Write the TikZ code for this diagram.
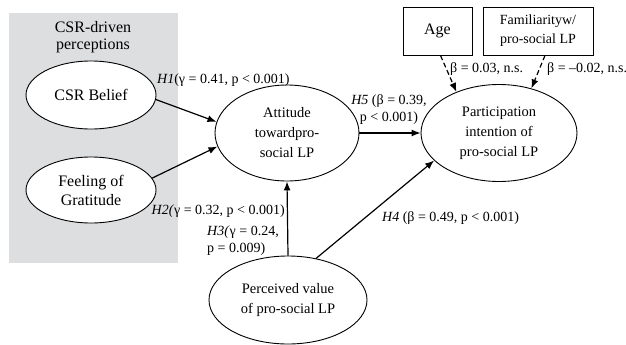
\documentclass[tikz,border=0pt]{standalone}
\usepackage{fontspec}
\setmainfont{Liberation Serif}
\usetikzlibrary{arrows.meta,shapes.geometric}
\definecolor{panelgray}{RGB}{221,222,223}
\tikzset{
  construct/.style={draw, ellipse, line width=0.9pt, fill=white, inner sep=0pt, align=center, font=\fontsize{14.5}{20}\selectfont},
  antecedent/.style={construct, font=\fontsize{16}{19}\selectfont},
  control/.style={draw, rectangle, line width=0.9pt, fill=white, inner sep=0pt, align=center, font=\fontsize{14}{19}\selectfont},
  effect/.style={line width=1.2pt, -{Latex[length=9pt,width=7pt]}},
  ctrleffect/.style={effect, dash pattern=on 5pt off 3pt},
  hyp/.style={inner sep=0pt, font=\fontsize{14}{17}\selectfont}
}

\begin{document}
\begin{tikzpicture}[x=1pt, y=-1pt]
		%%%%% START %%%%%
		\useasboundingbox (0, 0) rectangle (626, 345);
		
		\fill[panelgray] (9, 13) rectangle (178, 263);
		\node[hyp, align=center, font=\fontsize{16}{17.5}\selectfont] (group) at (93, 37) {CSR-driven\\perceptions};
		
		\node[antecedent, minimum width=130, minimum height=68] (belief) at (91, 95) {CSR Belief};
		\node[antecedent, minimum width=130, minimum height=66] (gratitude) at (91, 190) {Feeling of\\Gratitude};
		\node[construct, minimum width=144, minimum height=96] (attitude) at (287, 133) {Attitude\\towardpro-\\social LP};
		\node[construct, minimum width=156, minimum height=97] (intention) at (499, 133) {Participation\\intention of\\pro-social LP};
		\node[construct, minimum width=158, minimum height=88] (value) at (288, 300) {Perceived value\\of pro-social LP};
		
		\node[control, minimum width=69, minimum height=48, font=\fontsize{16}{19}\selectfont] (age) at (437.5, 31) {Age};
		\node[control, minimum width=110, minimum height=48] (familiar) at (538, 31) {Familiarityw/\\pro-social LP};
		
		\draw[effect] (belief.-4) -- (attitude.171);
		\draw[effect] (gratitude.11) -- (attitude.191);
		\draw[effect] (value.north) -- (attitude.south);
		\draw[effect] (attitude.east) -- (intention.west);
		\draw[effect] (value.56) -- (intention.203);
		\draw[ctrleffect] ([xshift=3pt]age.south) -- (intention.136);
		\draw[ctrleffect] ([xshift=7pt]familiar.south) -- (intention.54);
		
		\node[hyp, anchor=west] (h1) at (157, 80) {\textit{H1}(γ = 0.41, p < 0.001)};
		\node[hyp, anchor=east] (h2) at (285, 211) {\textit{H2(}γ = 0.32, p < 0.001)};
		\node[hyp, anchor=west, align=left] (h3) at (207, 241) {\textit{H3(}γ = 0.24,\\p = 0.009)};
		\node[hyp, anchor=west] (h4) at (382, 218) {\textit{H4} (β = 0.49, p < 0.001)};
		\node[hyp, align=center] (h5) at (389, 110) {\textit{H5} (β = 0.39,\\p < 0.001)};
		\node[hyp, anchor=west] (cage) at (450, 69) {β = 0.03, n.s.};
		\node[hyp, anchor=west] (cfam) at (547, 69) {β = –0.02, n.s.};
		
		%%%%% END %%%%%
	\end{tikzpicture}
\end{document}
